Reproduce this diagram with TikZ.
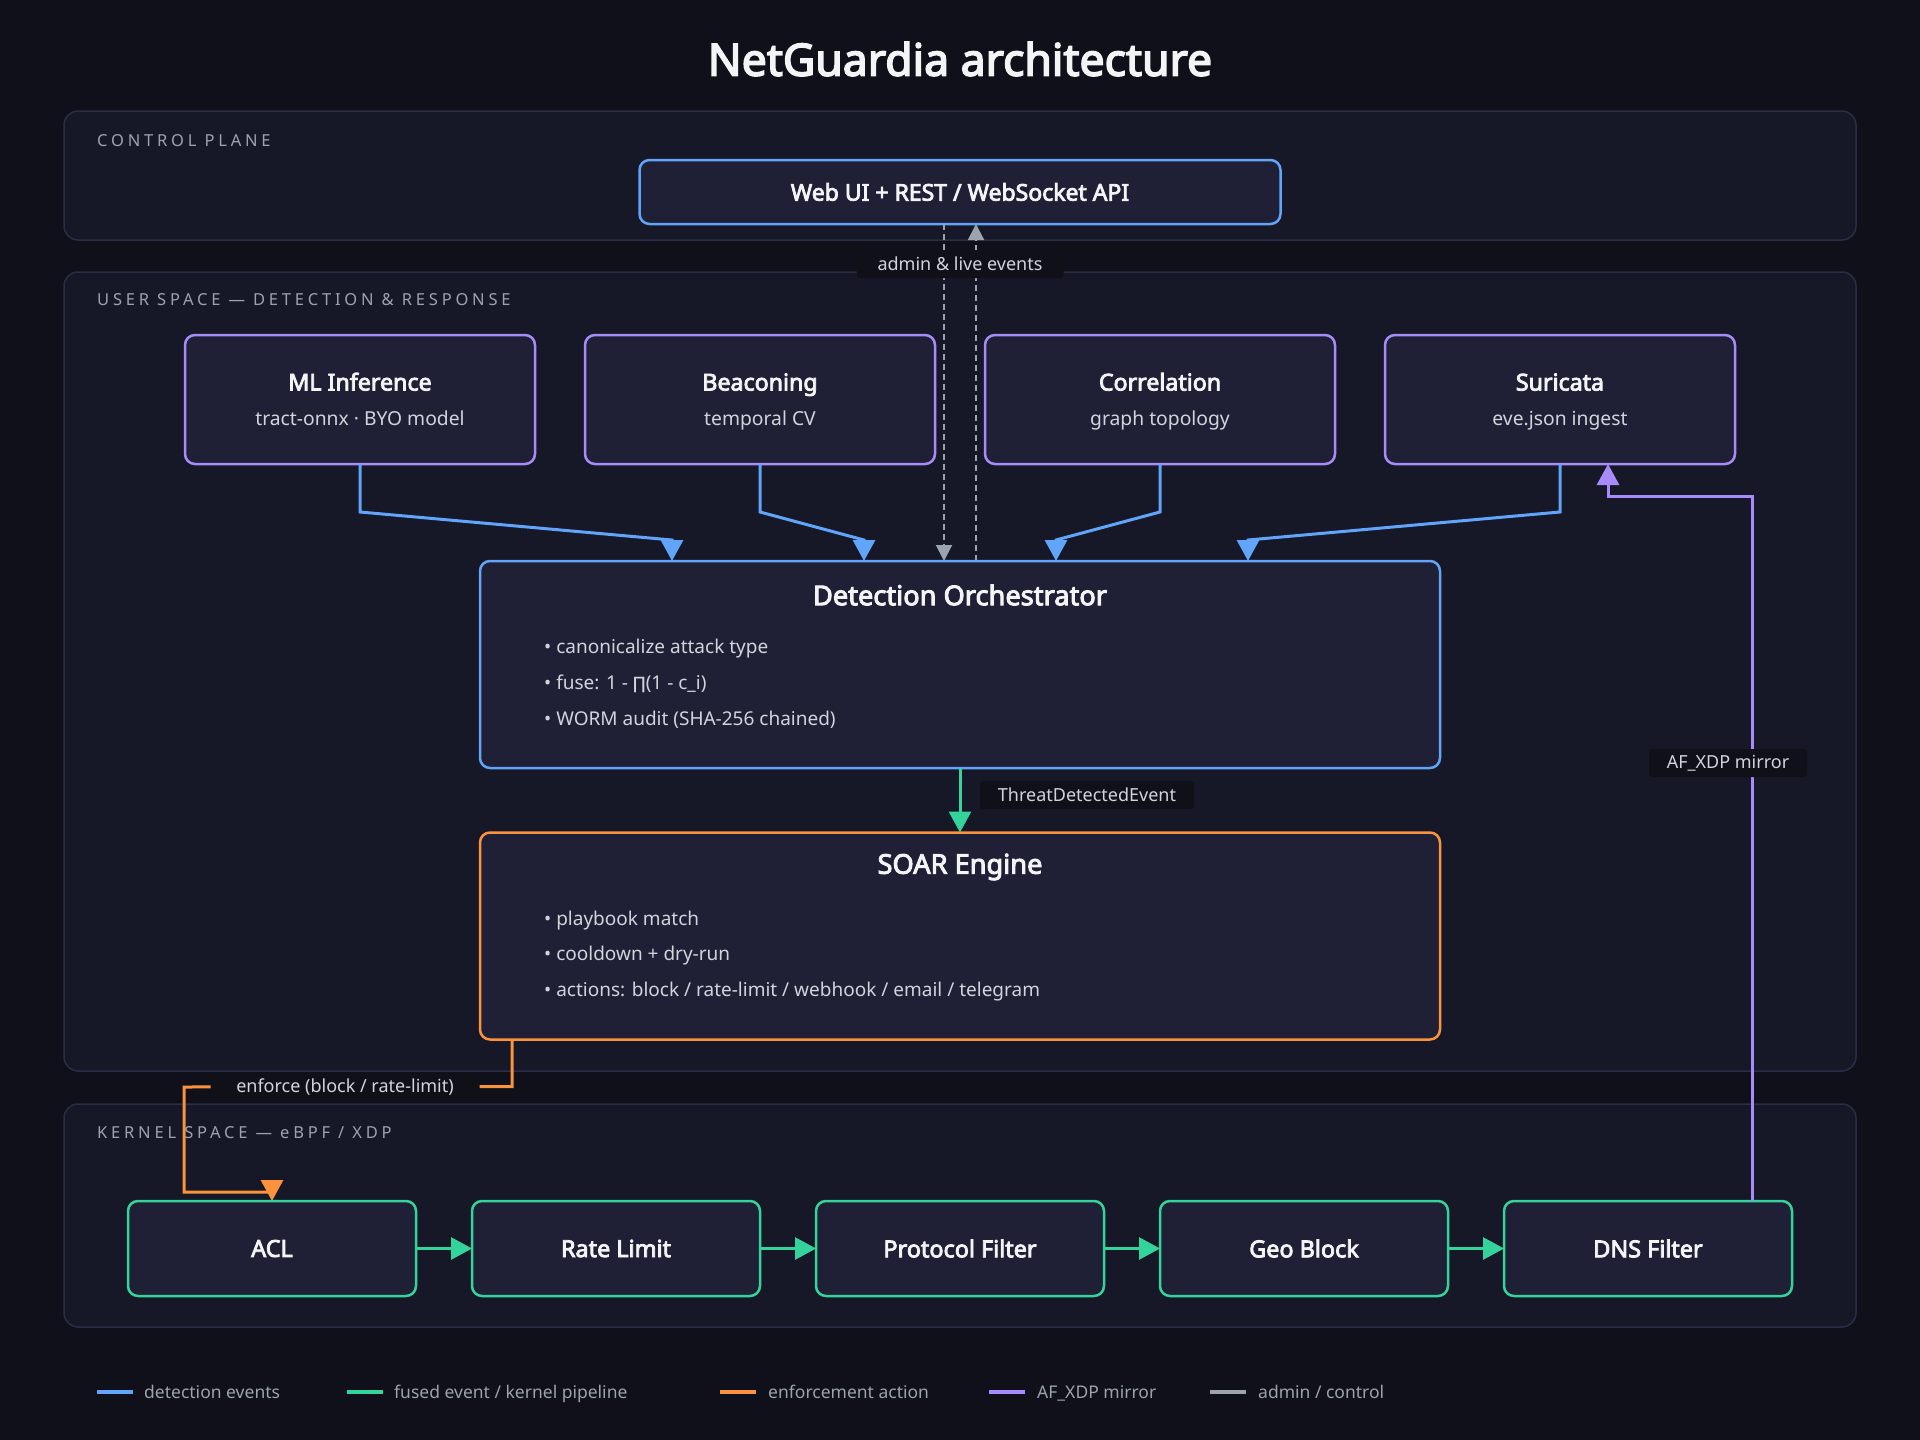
\documentclass[tikz,border=0pt]{standalone}
\usepackage{fontspec}
\setmainfont{Noto Sans}
\IfFontExistsTF{Noto Sans Bold}
  {\newfontfamily\nsbold{Noto Sans Bold}[FakeBold=1.2]}
  {\newfontfamily\nsbold{Noto Sans}[FakeBold=3.5]}
\newfontfamily\spacedfont[LetterSpace=23]{Noto Sans}
\newfontfamily\djv{DejaVu Sans}
\usetikzlibrary{arrows.meta,calc}
\definecolor{bg}{HTML}{0F1019}
\definecolor{panelfill}{HTML}{171827}
\definecolor{panelline}{HTML}{2B2C45}
\definecolor{nodefill}{HTML}{1F2036}
\definecolor{labelfill}{HTML}{101018}
\definecolor{cblue}{HTML}{60A5FA}
\definecolor{cpurple}{HTML}{A78BFA}
\definecolor{cgreen}{HTML}{34D399}
\definecolor{corange}{HTML}{FB923C}
\definecolor{cgray}{HTML}{9CA3AF}
\definecolor{ctext}{HTML}{F3F4F6}
\definecolor{csub}{HTML}{D1D5DB}
\definecolor{cmuted}{HTML}{9CA3AF}
\begin{document}
\begin{tikzpicture}[x=1pt,y=-1pt,
  panel/.style={draw=panelline, fill=panelfill, line width=1.5pt, rounded corners=14pt, outer sep=0pt, inner sep=0pt, anchor=north west},
  plabel/.style={anchor=west, text=cmuted, inner sep=0pt, font=\spacedfont\fontsize{16.5}{20}\selectfont},
  boxbase/.style={fill=nodefill, line width=2.5pt, rounded corners=10pt, outer sep=0pt, inner sep=0pt},
  detbox/.style={boxbase, draw=cpurple, minimum width=350pt, minimum height=129pt},
  bigbox/.style={boxbase, minimum width=960pt, minimum height=207pt},
  kbox/.style={boxbase, draw=cgreen, minimum width=288pt, minimum height=95pt, text=ctext, font=\nsbold\fontsize{23.4}{28}\selectfont},
  webbox/.style={boxbase, draw=cblue, minimum width=641pt, minimum height=64pt, text=ctext, font=\nsbold\fontsize{23}{27}\selectfont},
  dtitle/.style={anchor=base, text=ctext, inner sep=0pt, font=\nsbold\fontsize{23.2}{28}\selectfont},
  dsub/.style={anchor=base, text=csub, inner sep=0pt, font=\fontsize{19.3}{23}\selectfont},
  btitle/.style={text=ctext, inner sep=0pt, font=\nsbold\fontsize{27.2}{32}\selectfont},
  bullet/.style={anchor=west, text=csub, inner sep=0pt, font=\fontsize{19}{23}\selectfont},
  elabel/.style={fill=labelfill, rounded corners=3pt, text=csub, inner sep=0pt, minimum height=28pt, font=\fontsize{18}{21}\selectfont},
  conn/.style={line width=3pt},
  det/.style={conn, draw=cblue, -{Triangle[length=21pt,width=22pt]}},
  fus/.style={conn, draw=cgreen, -{Triangle[length=21pt,width=22pt]}},
  enf/.style={conn, draw=corange},
  enftip/.style={conn, draw=corange, -{Triangle[length=21pt,width=22pt]}},
  mir/.style={conn, draw=cpurple, -{Triangle[length=21pt,width=22pt]}},
  adm/.style={line width=2pt, draw=cgray, dash pattern=on 6pt off 4pt, -{Triangle[length=16pt,width=16pt]}},
  legline/.style={line width=4pt},
  legtext/.style={anchor=base west, text=cmuted, inner sep=0pt, font=\fontsize{17.5}{21}\selectfont}
]
% background
\fill[bg] (0,0) rectangle (1920,1440);
\useasboundingbox (0,0) rectangle (1920,1440);

% title
\node[text=ctext, font=\nsbold\fontsize{44.5}{53}\selectfont] (title) at (960,59) {NetGuardia architecture};

% panels
\node[panel, minimum width=1792pt, minimum height=129pt] (cp) at (64,111) {};
\node[plabel] (cplabel) at (97,141) {CONTROL PLANE};
\node[panel, minimum width=1792pt, minimum height=799pt] (us) at (64,272) {};
\node[plabel] (uslabel) at (97,300) {USER SPACE — DETECTION \& RESPONSE};
\node[panel, minimum width=1792pt, minimum height=223pt] (ks) at (64,1104) {};
\node[plabel] (kslabel) at (97,1133) {KERNEL SPACE — eBPF / XDP};

% web UI
\node[webbox] (web) at (960,192) {Web UI + REST / WebSocket API};

% detectors
\node[detbox] (ml) at (360,399.5) {};
\node[dtitle] (mlT) at (360,390.5) {ML Inference};
\node[dsub] (mlS) at (360,425.5) {tract-onnx · BYO model};
\node[detbox] (bea) at (760,399.5) {};
\node[dtitle] (beaT) at (760,390.5) {Beaconing};
\node[dsub] (beaS) at (760,425.5) {temporal CV};
\node[detbox] (cor) at (1160,399.5) {};
\node[dtitle] (corT) at (1160,390.5) {Correlation};
\node[dsub] (corS) at (1160,425.5) {graph topology};
\node[detbox] (sur) at (1560,399.5) {};
\node[dtitle] (surT) at (1560,390.5) {Suricata};
\node[dsub] (surS) at (1560,425.5) {eve.json ingest};

% orchestrator
\node[bigbox, draw=cblue] (orch) at (960,664.5) {};
\node[btitle] (orchT) at (960,595) {Detection Orchestrator};
\node[bullet] (orchB1) at (544,649) {• canonicalize attack type};
\node[bullet] (orchB2) at (544,684) {• fuse: 1 - {\djv\fontsize{17}{20}\selectfont ∏}(1 - c\_i)};
\node[bullet] (orchB3) at (544,720) {• WORM audit (SHA-256 chained)};

% SOAR
\node[bigbox, draw=corange] (soar) at (960,936) {};
\node[btitle] (soarT) at (960,867) {SOAR Engine};
\node[bullet] (soarB1) at (544,921) {• playbook match};
\node[bullet] (soarB2) at (544,956) {• cooldown + dry-run};
\node[bullet] (soarB3) at (544,992) {• actions: block / rate-limit / webhook / email / telegram};

% kernel pipeline
\node[kbox] (acl) at (272,1248.5) {ACL};
\node[kbox] (rate) at (616,1248.5) {Rate Limit};
\node[kbox] (proto) at (960,1248.5) {Protocol Filter};
\node[kbox] (geo) at (1304,1248.5) {Geo Block};
\node[kbox] (dns) at (1648,1248.5) {DNS Filter};

% detection connectors
\coordinate (o1) at ($(orch.north west)!0.2!(orch.north east)$);
\coordinate (o2) at ($(orch.north west)!0.4!(orch.north east)$);
\coordinate (o3) at ($(orch.north west)!0.6!(orch.north east)$);
\coordinate (o4) at ($(orch.north west)!0.8!(orch.north east)$);
\draw[det] (ml.south) -- ++(0,48) -- ($(o1)+(0,-21)$) -- (o1);
\draw[det] (bea.south) -- ++(0,48) -- ($(o2)+(0,-21)$) -- (o2);
\draw[det] (cor.south) -- ++(0,48) -- ($(o3)+(0,-21)$) -- (o3);
\draw[det] (sur.south) -- ++(0,48) -- ($(o4)+(0,-21)$) -- (o4);

% admin connectors
\draw[adm] ($(web.south)+(-16,0)$) -- ($(orch.north)+(-16,0)$);
\draw[adm] ($(orch.north)+(16,0)$) -- ($(web.south)+(16,0)$);
\node[elabel, minimum width=207pt] (admL) at (960,264) {admin \& live events};

% fused event
\draw[fus] (orch.south) -- (soar.north);
\node[elabel, minimum width=214pt] (thrL) at (1087,795) {ThreatDetectedEvent};

% kernel pipeline arrows
\draw[fus] (acl.east) -- (rate.west);
\draw[fus] (rate.east) -- (proto.west);
\draw[fus] (proto.east) -- (geo.west);
\draw[fus] (geo.east) -- (dns.west);

% enforcement
\draw[enf] ($(soar.south west)+(32,0)$) -- ++(0,47) -- ($(acl.north)+(-88,-114)$) -- ($(acl.north)+(-88,-9)$) -- ($(acl.north)+(0,-9)$);
\draw[enftip] ($(acl.north)+(0,-21)$) -- (acl.north);
\node[elabel, minimum width=269pt] (enfL) at (345,1087) {enforce (block / rate-limit)};

% AF_XDP mirror
\draw[mir] ($(dns.north)+(104,0)$) |- ($(sur.south)+(48,32)$) -- ($(sur.south)+(48,0)$);
\node[elabel, minimum width=158pt] (mirL) at (1728,763) {AF\_XDP mirror};

% legend
\draw[legline, cblue] (97,1392) -- (133,1392);
\node[legtext] (leg1) at (144,1398) {detection events};
\draw[legline, cgreen] (347,1392) -- (383,1392);
\node[legtext] (leg2) at (394,1398) {fused event / kernel pipeline};
\draw[legline, corange] (720,1392) -- (756,1392);
\node[legtext] (leg3) at (768,1398) {enforcement action};
\draw[legline, cpurple] (989,1392) -- (1025,1392);
\node[legtext] (leg4) at (1037,1398) {AF\_XDP mirror};
\draw[legline, cgray] (1210,1392) -- (1246,1392);
\node[legtext] (leg5) at (1258,1398) {admin / control};
\end{tikzpicture}
\end{document}
